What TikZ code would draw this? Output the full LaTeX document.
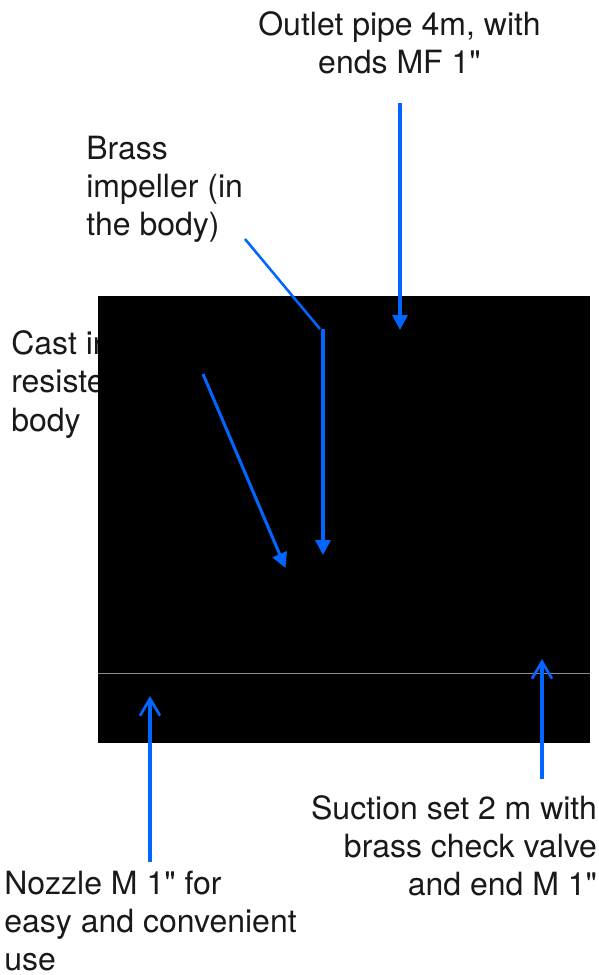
\documentclass[tikz,border=0pt]{standalone}
\usepackage{fontspec}
\setmainfont{TeX Gyre Heros}[Ligatures=TeXOff]
\usetikzlibrary{arrows.meta}
\definecolor{callout}{HTML}{0066FF}
\tikzset{
  lbl/.style={inner sep=0pt,outer sep=0pt,font=\fontsize{32}{38}\selectfont,text=black!90},
  solidarrow/.style={draw=callout,line width=3.05pt,-{Triangle[width=15pt,length=15pt]}},
  openarrow/.style={draw=callout,line width=3.05pt,-{Straight Barb[length=17pt,width=20pt,line width=2.7pt]}},
  plainline/.style={draw=callout,line width=2.5pt},
}
\begin{document}
\begin{tikzpicture}[x=1pt,y=-1pt]
\useasboundingbox (0,0) rectangle (599,975);
% labels
\node[lbl,anchor=base] (outA) at (399.5,35.5) {Outlet pipe 4m, with};
\node[lbl,anchor=base] (outB) at (399.5,73.5) {ends MF 1"};
\node[lbl,anchor=base west] (brA) at (86.3,159.5) {Brass};
\node[lbl,anchor=base west] (brB) at (86.3,197.5) {impeller (in};
\node[lbl,anchor=base west] (brC) at (86.3,235.5) {the body)};
\node[lbl,anchor=base west] (caA) at (11.3,354.5) {Cast ir};
\node[lbl,anchor=base west] (caB) at (11.3,392.5) {resiste};
\node[lbl,anchor=base west] (caC) at (11.3,431.5) {body};
\node[lbl,anchor=base east] (suA) at (597,819.5) {Suction set 2 m with};
\node[lbl,anchor=base east] (suB) at (597,857.5) {brass check valve};
\node[lbl,anchor=base east] (suC) at (597,895.5) {and end M 1"};
\node[lbl,anchor=base west] (noA) at (4.3,894.5) {Nozzle M 1" for};
\node[lbl,anchor=base west] (noB) at (4.3,932.5) {easy and convenient};
\node[lbl,anchor=base west] (noC) at (4.3,970) {use};
% black panel
\fill[black] (98,296) rectangle (590,743);
\draw[black!45,line width=1pt] (98,673.5) -- (590,673.5);
% connector ends
\coordinate (o1) at (400,103);
\coordinate (o2) at (400,330);
\coordinate (b1) at (245,239);
\coordinate (b2) at (320,329);
\coordinate (b3) at (323,329);
\coordinate (b4) at (323,555);
\coordinate (c1) at (203,374);
\coordinate (c2) at (285.5,568);
\coordinate (n1) at (150,862);
\coordinate (n2) at (150,696);
\coordinate (s1) at (542,779);
\coordinate (s2) at (542,659);
% connectors
\draw[solidarrow] (o1) -- (o2);
\draw[plainline] (b1) -- (b2);
\draw[solidarrow] (b3) -- (b4);
\draw[solidarrow] (c1) -- (c2);
\draw[openarrow] (n1) -- (n2);
\draw[openarrow] (s1) -- (s2);
\end{tikzpicture}
\end{document}
